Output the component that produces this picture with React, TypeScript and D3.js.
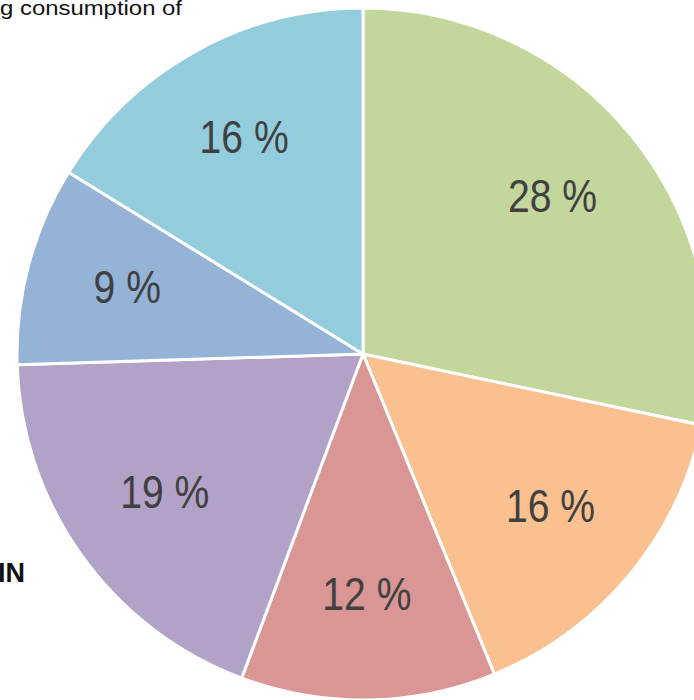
import React from "react";
import * as d3 from "d3";

const categories = ["A", "B", "C", "D", "E", "F"];
const values = [28.3, 15.5, 11.9, 18.8, 9.3, 16.2];
const labels = ["28 %", "16 %", "12 %", "19 %", "9 %", "16 %"];
const colors = ["#c3d69b", "#fac090", "#d99694", "#b3a2c7", "#95b3d7", "#93cddd"];
const titleFragment = "g consumption of";
const sideLabel = "IN";

export default function App() {
  const W = 694, H = 700;
  const cx = 363, cy = 354, R = 346;
  const pie = d3.pie<number>().sort(null).value((d) => d)(values);
  const arc = d3.arc<d3.PieArcDatum<number>>().innerRadius(0).outerRadius(R);
  const labelR = 244;
  const labelArc = d3.arc<d3.PieArcDatum<number>>().innerRadius(labelR * 2 - R).outerRadius(R);
  return (
    <svg width={W} height={H} style={{ position: "absolute", left: 0, top: 0, background: "#fff" }}>
      <g transform={`translate(${cx},${cy})`}>
        {pie.map((p, i) => (
          <path key={categories[i]} d={arc(p) || ""} fill={colors[i]} stroke="#fff" strokeWidth={3} strokeLinejoin="round" />
        ))}
        {pie.map((p, i) => {
          const [x, y] = labelArc.centroid(p);
          return (
            <text key={"l" + i} transform={`translate(${x},${y}) scale(0.85,1)`} textAnchor="middle" dy="0.26em"
              fontFamily="Liberation Sans, Arial, sans-serif" fontSize={46} fill="#404040">
              {labels[i]}
            </text>
          );
        })}
      </g>
      <text x={0} y={15} fontFamily="Liberation Sans, Arial, sans-serif" fontSize={21} fill="#111" textLength={182} lengthAdjust="spacingAndGlyphs">
        {titleFragment}
      </text>
      <text x={25} y={582} textAnchor="end" fontFamily="Liberation Sans, Arial, sans-serif" fontSize={27} fontWeight="bold" fill="#111">
        {sideLabel}
      </text>
    </svg>
  );
}
